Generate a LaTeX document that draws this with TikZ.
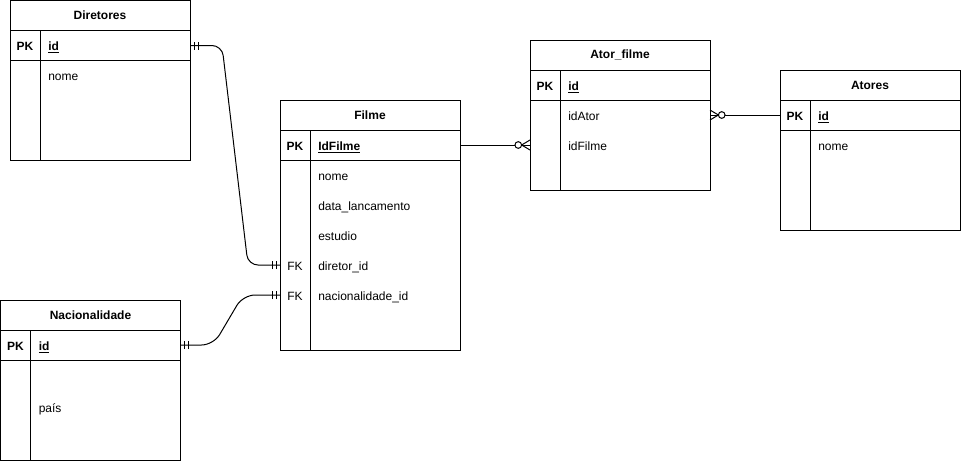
\documentclass[tikz,border=0pt]{standalone}
\usepackage{fontspec}
\setmainfont{Liberation Sans}
\usetikzlibrary{positioning,calc,decorations.markings}

\tikzset{
  tblLine/.style={line width=0.75pt, draw=black},
  tblRow/.style={tblLine, fill=white, minimum width=135pt, minimum height=22.5pt,
                 inner sep=0pt, outer sep=0pt},
  tblHead/.style={tblRow, anchor=north west, font=\bfseries\fontsize{9}{11}\selectfont},
  tblBody/.style={tblRow, minimum height=75pt},
  keyTxt/.style={font=\bfseries\fontsize{9}{11}\selectfont, inner sep=0pt,
                 text height=8.5pt, text depth=1pt},
  fkTxt/.style={font=\fontsize{9}{11}\selectfont, inner sep=0pt,
                text height=8.5pt, text depth=1pt},
  pkTxt/.style={keyTxt, anchor=west},
  fldTxt/.style={fkTxt, anchor=west},
  rel/.style={line width=0.75pt, draw=black},
  oneOne/.style={postaction={decorate, decoration={markings,
      mark=at position 0 with {\draw[rel] (3pt,-3pt) -- (3pt,3pt) (6pt,-3pt) -- (6pt,3pt);},
      mark=at position 1 with {\draw[rel] (-3pt,-3pt) -- (-3pt,3pt) (-6pt,-3pt) -- (-6pt,3pt);}}}},
  zeroMany/.style={postaction={decorate, decoration={markings,
      mark=at position 1 with {\draw[rel] (0,3.75pt) -- (-6.3pt,0) -- (0,-3.75pt);
                               \draw[rel, fill=white] (-8.8pt,0) circle (2.5pt);}}}},
}

\begin{document}
\begin{tikzpicture}[x=0.75pt, y=-0.75pt]
\path[use as bounding box, fill=white] (0,0) rectangle (961,461);

% ---------- Diretores ----------
\begin{scope}[shift={(10,0.5)}]
  \node[tblHead] (dirH) at (0,0) {Diretores};
  \node[tblRow, below=0pt of dirH] (dirK) {};
  \node[tblBody, below=0pt of dirK] (dirB) {};
  \draw[tblLine] (30,30) -- (30,160);
  \node[keyTxt] (dirPK) at (15,45) {PK};
  \node[pkTxt] (dirId) at (38,45) {\underline{id}};
  \foreach \f [count=\i from 0] in {nome} {
    \node[fldTxt] (dirF\i) at (38,75+\i*30) {\f};
  }
\end{scope}

% ---------- Filme ----------
\begin{scope}[shift={(280,100)}]
  \node[tblHead] (filH) at (0,0) {Filme};
  \node[tblRow, below=0pt of filH] (filK) {};
  \node[tblBody, minimum height=142.5pt, below=0pt of filK] (filB) {};
  \draw[tblLine] (30,30) -- (30,250);
  \node[keyTxt] (filPK) at (15,45) {PK};
  \node[pkTxt] (filId) at (38,45) {\underline{IdFilme}};
  \foreach \f/\k [count=\i from 0] in {nome/{},data\_lancamento/{},estudio/{},
                                       diretor\_id/FK,nacionalidade\_id/FK} {
    \node[fldTxt] (filF\i) at (38,75+\i*30) {\f};
    \node[fkTxt] (filFK\i) at (15,75+\i*30) {\k};
  }
\end{scope}

% ---------- Ator_filme ----------
\begin{scope}[shift={(530,40)}]
  \node[tblHead] (afH) at (0,0) {Ator\_filme};
  \node[tblRow, below=0pt of afH] (afK) {};
  \node[tblBody, minimum height=67.5pt, below=0pt of afK] (afB) {};
  \draw[tblLine] (30,30) -- (30,150);
  \node[keyTxt] (afPK) at (15,45) {PK};
  \node[pkTxt] (afId) at (38,45) {\underline{id}};
  \foreach \f [count=\i from 0] in {idAtor,idFilme} {
    \node[fldTxt] (afF\i) at (38,75+\i*30) {\f};
  }
\end{scope}

% ---------- Atores ----------
\begin{scope}[shift={(780,70)}]
  \node[tblHead] (atH) at (0,0) {Atores};
  \node[tblRow, below=0pt of atH] (atK) {};
  \node[tblBody, below=0pt of atK] (atB) {};
  \draw[tblLine] (30,30) -- (30,160);
  \node[keyTxt] (atPK) at (15,45) {PK};
  \node[pkTxt] (atId) at (38,45) {\underline{id}};
  \foreach \f [count=\i from 0] in {nome} {
    \node[fldTxt] (atF\i) at (38,75+\i*30) {\f};
  }
\end{scope}

% ---------- Nacionalidade ----------
\begin{scope}[shift={(0.5,300)}]
  \node[tblHead] (nacH) at (0,0) {Nacionalidade};
  \node[tblRow, below=0pt of nacH] (nacK) {};
  \node[tblBody, below=0pt of nacK] (nacB) {};
  \draw[tblLine] (30,30) -- (30,160);
  \node[keyTxt] (nacPK) at (15,45) {PK};
  \node[pkTxt] (nacId) at (38,45) {\underline{id}};
  \node[fldTxt] (nacF0) at (38,107) {país};
\end{scope}

% ---------- relationships ----------
\draw[rel, oneOne, rounded corners=7.5pt] (dirK.east) -- ++(32,0)
  -- ($(filF3 -| filB.west)+(-32,0)$) -- (filF3 -| filB.west);
\draw[rel, oneOne, rounded corners=9pt] (nacK.east) -- ++(33,0)
  -- ($(filF4 -| filB.west)+(-37,0)$) -- (filF4 -| filB.west);
\draw[rel, zeroMany] (filK.east) -- (afF1 -| afB.west);
\draw[rel, zeroMany] (atK.west) -- (afF0 -| afB.east);

\end{tikzpicture}
\end{document}
